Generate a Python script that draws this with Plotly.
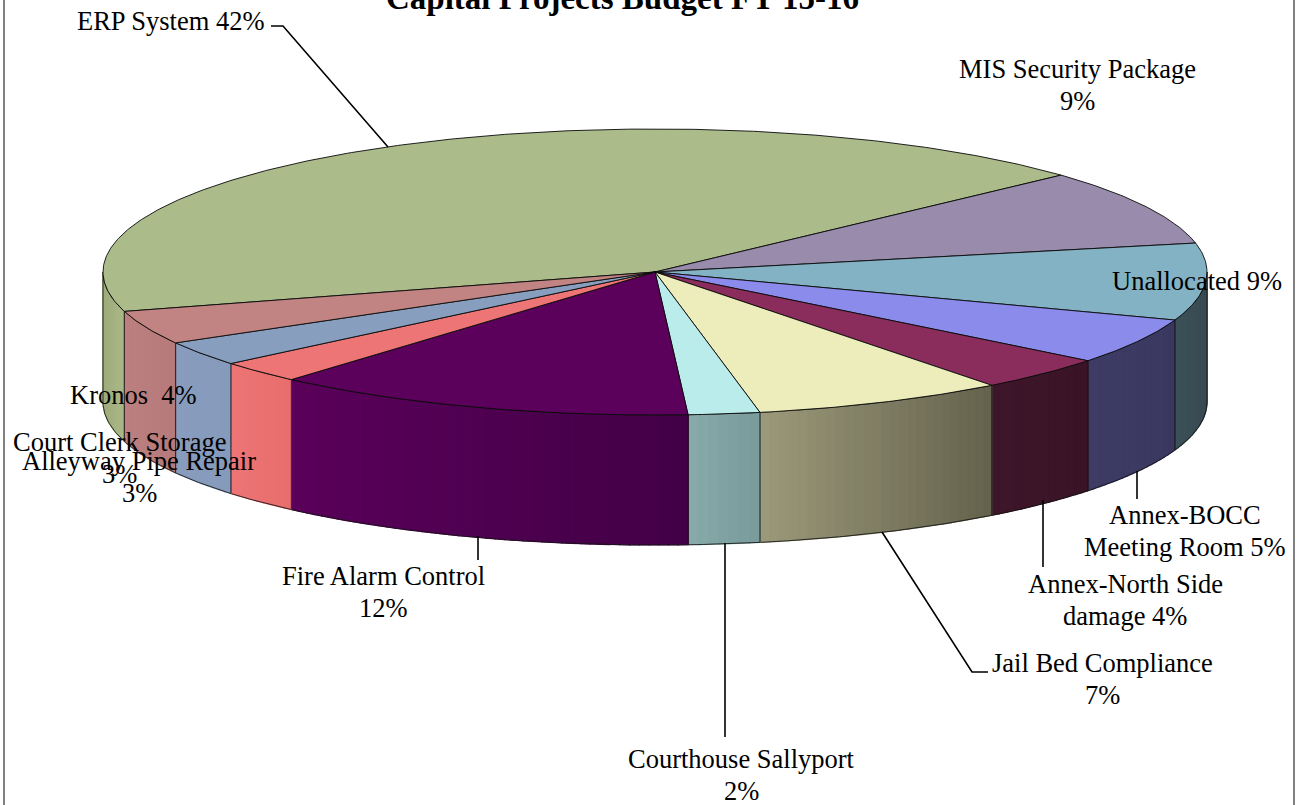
import math
import plotly.graph_objects as go

categories = ["ERP System", "MIS Security Package", "Unallocated", "Annex-BOCC Meeting Room",
              "Annex-North Side damage", "Jail Bed Compliance", "Courthouse Sallyport",
              "Fire Alarm Control", "Alleyway Pipe Repair", "Court Clerk Storage", "Kronos"]
shares = [42.6, 8.6, 8.7, 5.2, 3.9, 7.4, 2.09, 12.4, 2.5, 2.8, 3.81]
label_text = ["ERP System 42%", "MIS Security Package<br>9%", "Unallocated 9%",
              "Annex-BOCC<br>Meeting Room 5%", "Annex-North Side<br>damage 4%",
              "Jail Bed Compliance<br>7%", "Courthouse Sallyport<br>2%",
              "Fire Alarm Control<br>12%", "Alleyway Pipe Repair<br>3%",
              "Court Clerk Storage<br>3%", "Kronos  4%"]

# style
top_colors = ["#ABBB8A", "#988BAB", "#82B2C3", "#8B8BEB", "#8B2D5C", "#EDECBB",
              "#BBECEC", "#5B005B", "#EE7575", "#879EBF", "#C18483"]
side_colors = [((158, 170, 122), (170, 184, 136)), ((90, 80, 105), (70, 62, 82)),
               ((60, 80, 88), (56, 74, 82)), ((62, 60, 102), (58, 56, 96)),
               ((62, 22, 42), (58, 20, 38)), ((156, 154, 122), (100, 98, 76)),
               ((137, 170, 170), (122, 155, 155)), ((90, 0, 90), (66, 0, 70)),
               ((238, 118, 118), (232, 108, 108)), ((136, 156, 190), (134, 154, 188)),
               ((188, 128, 128), (182, 122, 122))]
# centre of the first line of each label
label_pos = [(170, 21), (1077, 69), (1197, 281), (1185, 515), (1125, 584),
             (1102, 663), (741, 759), (383, 576), (139, 461), (119, 442), (133, 395)]
LINE_H = 32
leaders = [[(271, 26), (283, 26), (388, 147)], [(882, 532), (972, 672), (988, 672)],
           [(725, 543), (725, 737)], [(478, 536), (478, 560)],
           [(1043, 500), (1043, 567)], [(1137, 471), (1137, 499)]]
CX, CY, RX, RY, DEPTH = 655, 272, 552, 143, 130
START = 196.0


def rim(t, drop=0):
    r = math.radians(t)
    return CX + RX * math.cos(r), CY - RY * math.sin(r) + drop


def arc(a, b, drop=0, step=0.5):
    n = max(2, int(abs(b - a) / step) + 1)
    return [rim(a + (b - a) * i / (n - 1), drop) for i in range(n)]


total = sum(shares)
edges = [START]
for s in shares:
    edges.append(edges[-1] - s / total * 360)

fig = go.Figure()


def poly(pts, fill=None, line="#000000", width=1):
    fig.add_trace(go.Scatter(
        x=[p[0] for p in pts], y=[p[1] for p in pts], mode="lines",
        fill="toself" if fill else "none", fillcolor=fill,
        line=dict(color=line, width=width), hoverinfo="skip", showlegend=False))


# side wall, front half only, with a gradient per slice
for i in range(len(shares)):
    a = edges[i]
    b = edges[i + 1]
    spans = []
    for sa, sb in [(a, b), (a - 360, b - 360), (a + 360, b + 360)]:
        hi = min(sa, 0)
        lo = max(sb, -180)
        if hi > lo:
            spans.append((hi, lo))
    for hi, lo in spans:
        left, right = side_colors[i]
        n = max(1, int((hi - lo) / 1.0))
        for k in range(n):
            t0 = lo + (hi - lo) * k / n
            t1 = lo + (hi - lo) * (k + 1) / n
            f = (rim(t0)[0] + rim(t1)[0]) / 2
            xa, xb = rim(lo)[0], rim(hi)[0]
            f = (f - xa) / (xb - xa)
            c = tuple(round(left[j] + (right[j] - left[j]) * f) for j in range(3))
            col = "rgb(%d,%d,%d)" % c
            pts = arc(t0, t1) + arc(t1, t0, DEPTH)
            poly(pts + pts[:1], fill=col, line=col, width=1.2)
        # slice side outline
        pts = arc(lo, hi) + arc(hi, lo, DEPTH)
        poly(pts + pts[:1], line="rgba(20,20,20,0.85)", width=1)

# top face
for i in range(len(shares)):
    pts = [(CX, CY)] + arc(edges[i], edges[i + 1]) + [(CX, CY)]
    poly(pts, fill=top_colors[i], line="rgba(10,10,10,0.9)", width=1)

# leader lines
for path in leaders:
    poly(path, line="#000000", width=1.6)

# labels, one annotation per line so the line spacing follows the reference
for text, (x, y) in zip(label_text, label_pos):
    for n, part in enumerate(text.split("<br>")):
        fig.add_annotation(x=x, y=y + n * LINE_H, text=part, showarrow=False, xanchor="center",
                           yanchor="middle", align="center",
                           font=dict(family="Liberation Serif", size=26.5, color="#000000"))

fig.add_annotation(x=622, y=0, yshift=2, text="<b>Capital Projects Budget FY 15-16</b>", showarrow=False,
                   xanchor="center", yanchor="middle",
                   font=dict(family="Liberation Serif", size=33, color="#000000"))

for xf in (4, 1294):
    fig.add_shape(type="line", x0=xf, x1=xf, y0=0, y1=805, line=dict(color="#808080", width=2))

fig.update_layout(
    width=1299, height=805, margin=dict(l=0, r=0, t=0, b=0), showlegend=False,
    paper_bgcolor="#FFFFFF", plot_bgcolor="#FFFFFF",
    xaxis=dict(range=[0, 1299], visible=False, fixedrange=True),
    yaxis=dict(range=[805, 0], visible=False, fixedrange=True),
)
fig.write_html("out.html", config={"displayModeBar": False},
               post_script="document.body.style.margin='0';document.body.style.overflow='hidden';")
